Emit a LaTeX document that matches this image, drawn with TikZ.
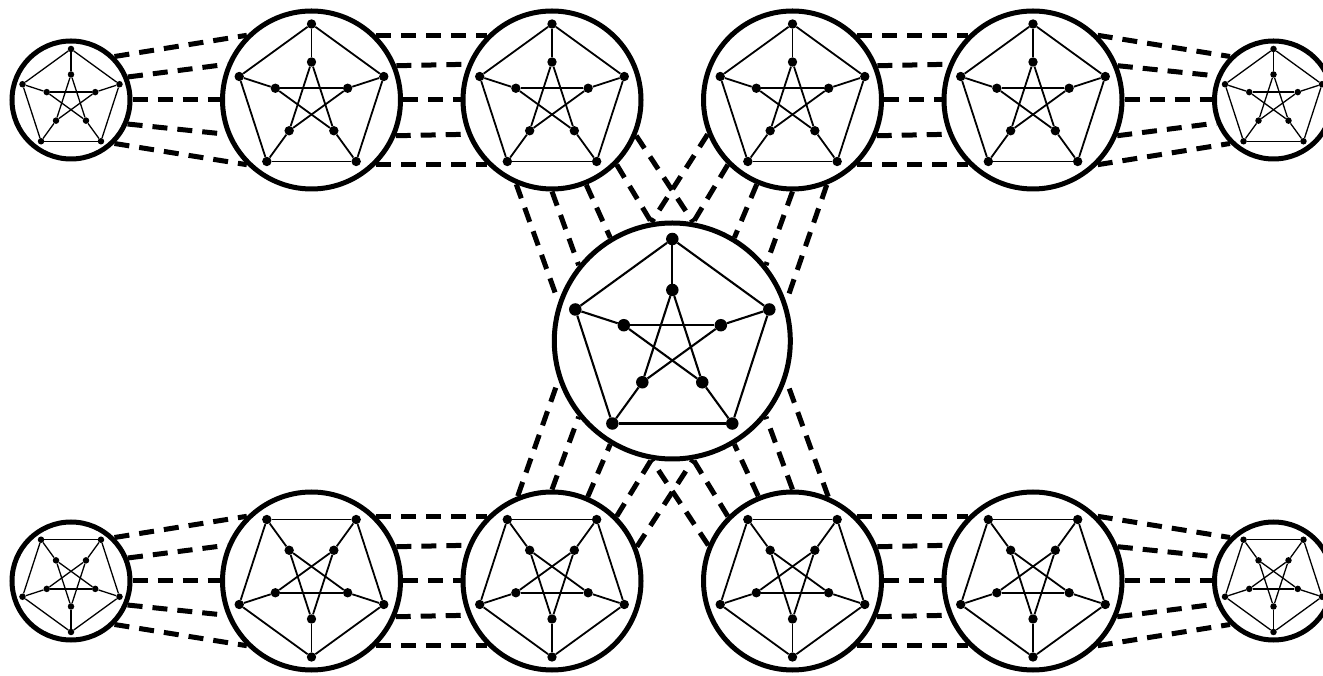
\documentclass[tikz,border=0pt]{standalone}
\usetikzlibrary{calc}
\tikzset{
  ring/.style={circle, draw, line width=5pt, inner sep=0pt, minimum size=#1},
  vdot/.style={circle, fill=black, inner sep=0pt, minimum size=#1},
  link/.style={line width=5pt, dash pattern=on 15pt off 10pt},
}
\newcommand{\PetersenG}[6]{%
  \foreach \i in {0,...,4}{
    \node[vdot=#5] (#1o\i) at ($(#2)+(#4+72*\i:#3)$) {};
    \node[vdot=#5] (#1i\i) at ($(#2)+(#4+72*\i:#3/2)$) {};
  }
  \foreach \i in {0,...,4}{
    \pgfmathtruncatemacro{\nj}{mod(\i+1,5)}
    \pgfmathtruncatemacro{\nk}{mod(\i+2,5)}
    \draw[line width=#6] (#1o\i) -- (#1o\nj);
    \draw[line width=#6] (#1o\i) -- (#1i\i);
    \draw[line width=#6] (#1i\i) -- (#1i\nk);
  }
}
\begin{document}
\begin{tikzpicture}[x=1pt,y=1pt]
\useasboundingbox (0,0) rectangle (1323,675);
\clip (0,0) rectangle (1323,675);
% circles
\node[ring=118pt] (TL) at (71,575) {};
\node[ring=178pt] (T1) at (311.5,575) {};
\node[ring=178pt] (T2) at (552,575) {};
\node[ring=178pt] (T3) at (792.5,575) {};
\node[ring=178pt] (T4) at (1033,575) {};
\node[ring=118pt] (TR) at (1273.5,575) {};
\node[ring=236pt] (C) at (672.3,334) {};
\node[ring=118pt] (BL) at (71,94) {};
\node[ring=178pt] (B1) at (311.5,94) {};
\node[ring=178pt] (B2) at (552,94) {};
\node[ring=178pt] (B3) at (792.5,94) {};
\node[ring=178pt] (B4) at (1033,94) {};
\node[ring=118pt] (BR) at (1273.5,94) {};
% Petersen graphs
\PetersenG{tl}{TL}{51}{90}{6.5pt}{1.3pt}
\PetersenG{ta}{T1}{76}{90}{9.4pt}{1.8pt}
\PetersenG{tb}{T2}{76}{90}{9.4pt}{1.8pt}
\PetersenG{tc}{T3}{76}{90}{9.4pt}{1.8pt}
\PetersenG{td}{T4}{76}{90}{9.4pt}{1.8pt}
\PetersenG{tr}{TR}{51}{90}{6.5pt}{1.3pt}
\PetersenG{cc}{C}{102}{90}{12.5pt}{2.1pt}
\PetersenG{bl}{BL}{51}{270}{6.5pt}{1.3pt}
\PetersenG{ba}{B1}{76}{270}{9.4pt}{1.8pt}
\PetersenG{bb}{B2}{76}{270}{9.4pt}{1.8pt}
\PetersenG{bc}{B3}{76}{270}{9.4pt}{1.8pt}
\PetersenG{bd}{B4}{76}{270}{9.4pt}{1.8pt}
\PetersenG{br}{BR}{51}{270}{6.5pt}{1.3pt}
% horizontal links
\foreach \a/\b in {TL/T1, T1/T2, T3/T4, T4/TR, BL/B1, B1/B2, B3/B4, B4/BR}{
  \foreach \s/\t in {45/135, 22.5/157.5, 0/180, 337.5/202.5, 315/225}{
    \draw[link] (\a.\s) -- (\b.\t);
  }
}
% links to the centre
\foreach \s/\t in {247.5/161, 270/141, 292.5/121, 315/100, 337.5/80}{
  \draw[link] (T2.\s) -- (C.\t);
}
\foreach \s/\t in {202.5/100, 225/80, 247.5/59, 270/39, 292.5/19}{
  \draw[link] (T3.\s) -- (C.\t);
}
\foreach \s/\t in {112.5/199, 90/219, 67.5/239, 45/260, 22.5/280}{
  \draw[link] (B2.\s) -- (C.\t);
}
\foreach \s/\t in {157.5/260, 135/280, 112.5/301, 90/321, 67.5/341}{
  \draw[link] (B3.\s) -- (C.\t);
}
\end{tikzpicture}
\end{document}
